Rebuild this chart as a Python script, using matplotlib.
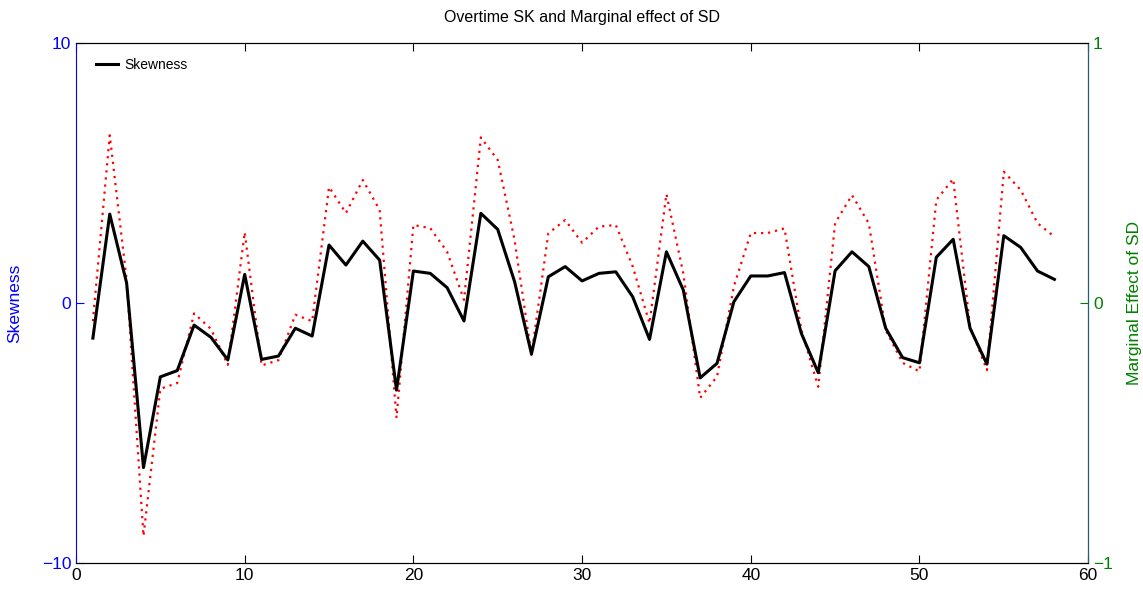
import matplotlib
matplotlib.use("Agg")
import matplotlib.pyplot as plt
import numpy as np

plt.rcParams['font.family'] = ['Liberation Sans', 'DejaVu Sans']

periods = list(range(1, 59))
skewness = [-1.35, 3.42, 0.77, -6.33, -2.84, -2.6, -0.85, -1.32, -2.19, 1.1,
            -2.17, -2.04, -0.97, -1.27, 2.23, 1.46, 2.38, 1.65, -3.35, 1.23,
            1.14, 0.59, -0.69, 3.45, 2.83, 0.82, -1.96, 1.01, 1.40, 0.85,
            1.14, 1.20, 0.24, -1.40, 1.97, 0.50, -2.88, -2.32, 0.05, 1.04,
            1.04, 1.17, -1.17, -2.68, 1.24, 1.97, 1.40, -0.97, -2.10, -2.30,
            1.76, 2.45, -0.97, -2.35, 2.59, 2.14, 1.23, 0.91]
upper = [-0.7, 6.45, 0.9, -8.96, -3.3, -3.08, -0.4, -1.0, -2.38, 2.72,
         -2.4, -2.2, -0.45, -0.7, 4.46, 3.46, 4.73, 3.58, -4.42, 3.0,
         2.88, 1.97, 0.12, 6.37, 5.5, 2.42, -2.0, 2.68, 3.19, 2.32,
         2.94, 3.0, 1.41, -0.78, 4.19, 1.14, -3.65, -2.83, 0.64, 2.69,
         2.69, 2.87, -1.04, -3.22, 3.07, 4.15, 3.06, -1.04, -2.3, -2.63,
         3.96, 4.77, -0.9, -2.58, 5.05, 4.35, 3.07, 2.55]

blue = '#0000ff'
green = '#008000'

fig = plt.figure(figsize=(11.43, 5.89), dpi=100)
ax = fig.add_axes([0.0665, 0.0441, 0.8855, 0.8829])
ax.plot(periods, upper, color='red', linestyle=(0, (1.0, 2.2)), linewidth=1.6)
ax.plot(periods, skewness, color='black', linewidth=2.2, label='Skewness')
ax.set_xlim(0, 60)
ax.set_ylim(-10, 10)
ax.set_xticks([0, 10, 20, 30, 40, 50, 60])
ax.set_yticks([-10, 0, 10])
ax.tick_params(axis='both', direction='in', labelsize=12.5, length=6, top=True)
ax.tick_params(axis='y', colors=blue)
ax.tick_params(axis='x', colors='black')
ax.spines['left'].set_color(blue)
ax.set_ylabel('Skewness', color=blue, fontsize=12.5, labelpad=14)
ax.set_title('Overtime SK and Marginal effect of SD', fontsize=11.5, pad=15)
leg = ax.legend(loc='upper left', frameon=False, fontsize=10, handlelength=1.6,
                handletextpad=0.5, bbox_to_anchor=(0.007, 0.995))

ax2 = ax.twinx()
ax2.set_ylim(-1, 1)
ax2.set_yticks([-1, 0, 1])
ax2.tick_params(axis='y', direction='in', colors=green, labelsize=12.5, length=6)
ax2.spines['right'].set_color('#1f5f7f')
ax2.spines['left'].set_visible(False)
ax2.set_ylabel('Marginal Effect of SD', color=green, fontsize=12.5, labelpad=10)

fig.savefig('out.png', dpi=100)
